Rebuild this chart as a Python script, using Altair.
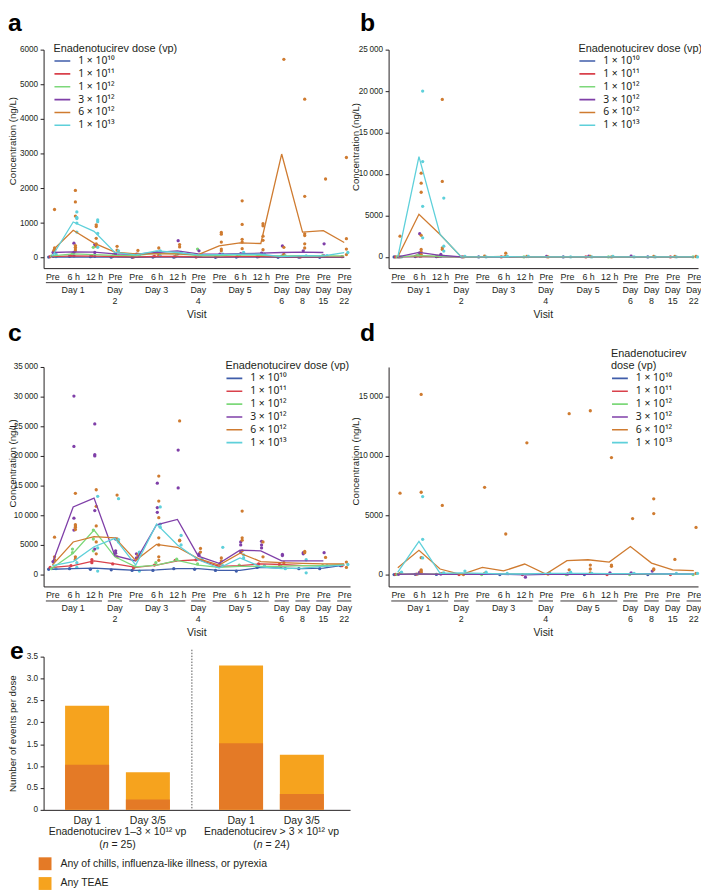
import altair as alt
import pandas as pd

FONT = "Liberation Sans"
INK = "#231F20"

# ---------------- shared categories ----------------
VISITS = list(range(15))
VISIT_LABELS = ["Pre", "6 h", "12 h", "Pre", "Pre", "6 h", "12 h", "Pre",
                "Pre", "6 h", "12 h", "Pre", "Pre", "Pre", "Pre"]
GROUP_START = [0, 3, 4, 7, 8, 11, 12, 13, 14]
GROUP_END = [2, 3, 6, 7, 10, 11, 12, 13, 14]
GROUP_LINE1 = ["Day 1", "Day", "Day 3", "Day", "Day 5", "Day", "Day", "Day", "Day"]
GROUP_LINE2 = ["", "2", "", "4", "", "6", "8", "15", "22"]

DOSES = ["1 × 10¹⁰", "1 × 10¹¹", "1 × 10¹²", "3 × 10¹²", "6 × 10¹²", "1 × 10¹³"]
DOSE_COLORS = ["#3F5DAA", "#D9414B", "#7DD87A", "#7F3FA8", "#CF7B30", "#5ED0DA"]

# ---------------- panel a ----------------
A_MEAN_1E10 = [15, 25, 20, 15, 10, 15, 15, 10, 10, 15, 15, 10, 10, 10, 10]
A_MEAN_1E11 = [30, 50, 45, 35, 25, 35, 35, 25, 25, 30, 30, 25, 25, 25, 25]
A_MEAN_1E12 = [50, 110, 90, 70, 60, 130, 110, 60, 60, 80, 70, 50, 60, 50, 50]
A_MEAN_3E12 = [150, 170, 160, 110, 100, 150, 200, 110, 100, 120, 130, 150, 160, 150, None]
A_MEAN_6E12 = [200, 790, 420, 160, 110, 110, 110, 90, 340, 430, 410, 2990, 740, 780, 440]
A_MEAN_1E13 = [50, 1030, 760, 150, 80, 200, 150, 80, 90, 100, 100, 30, 60, 50, 150]

A_PTS_1E10 = [(0, 20), (1, 40), (2, 30), (3, 15), (4, 10), (5, 20), (6, 15), (8, 10),
              (9, 20), (10, 25), (11, 10), (12, 15), (13, 10)]
A_PTS_1E11 = [(0, 30), (1, 60), (2, 50), (3, 40), (4, 20), (5, 40), (6, 30), (7, 20),
              (8, 30), (9, 40), (10, 30), (12, 20), (14, 30)]
A_PTS_1E12 = [(0, 50), (1, 120), (2, 300), (3, 100), (4, 60), (5, 150), (6, 100), (7, 250),
              (8, 60), (9, 80), (10, 60), (11, 40), (13, 60)]
A_PTS_3E12 = [(0, 150), (0, 40), (1, 420), (1, 150), (1, 50), (2, 380), (2, 150), (2, 40),
              (3, 110), (4, 100), (5, 150), (6, 490), (6, 120), (7, 200), (7, 50), (8, 100),
              (9, 120), (10, 130), (11, 340), (11, 50), (12, 200), (13, 400), (13, 50)]
A_PTS_6E12 = [(0, 1390), (0, 280), (0, 230), (0, 180), (1, 1940), (1, 1610), (1, 1200),
              (1, 350), (1, 300), (1, 250), (1, 200), (2, 950), (2, 900), (2, 560), (2, 400),
              (2, 330), (3, 330), (3, 220), (4, 210), (4, 100), (5, 280), (5, 120), (5, 60),
              (6, 380), (6, 310), (7, 60), (8, 730), (8, 680), (8, 450), (8, 250), (8, 200),
              (9, 1640), (9, 960), (9, 530), (9, 450), (9, 260), (10, 980), (10, 920),
              (10, 620), (10, 500), (10, 230), (11, 5720), (11, 300), (11, 100), (12, 4570),
              (12, 1770), (12, 690), (12, 640), (12, 400), (12, 280), (13, 2270), (14, 2890),
              (14, 550), (14, 250), (14, 90)]
A_PTS_1E13 = [(0, 100), (0, 30), (1, 1320), (1, 1160), (1, 1130), (1, 1000), (1, 740),
              (2, 1090), (2, 1040), (2, 700), (2, 300), (3, 200), (3, 50), (4, 80), (5, 200),
              (5, 60), (6, 150), (7, 80), (8, 100), (9, 150), (10, 100), (11, 50), (12, 50),
              (13, 60), (14, 150)]

# ---------------- panel b ----------------
B_MEAN_1E10 = [0, 30, 20, 0, 0, 0, 0, 0, 0, 0, 0, 0, 0, 0, 0]
B_MEAN_1E11 = [0, 80, 40, 0, 0, 0, 0, 0, 0, 0, 0, 0, 0, 0, 0]
B_MEAN_1E12 = [0, 150, 80, 0, 0, 0, 0, 0, 0, 0, 0, 0, 0, 0, 0]
B_MEAN_3E12 = [0, 550, 200, 0, 0, 20, 0, 0, 0, 20, 0, 20, 0, 0, 0]
B_MEAN_6E12 = [0, 5150, 2700, 0, 0, 60, 0, 0, 0, 0, 0, 0, 0, 0, 0]
B_MEAN_1E13 = [0, 12100, 2700, 0, 0, 30, 0, 0, 0, 0, 0, 0, 0, 0, 0]

B_PTS_1E10 = [(0, 0), (1, 50), (2, 30), (4, 0), (8, 0), (12, 0)]
B_PTS_1E11 = [(0, 0), (1, 120), (2, 60), (5, 0), (9, 0), (13, 0)]
B_PTS_1E12 = [(0, 0), (1, 250), (2, 100), (6, 0), (10, 0), (14, 0)]
B_PTS_3E12 = [(0, 0), (1, 2800), (1, 500), (1, 100), (2, 300), (2, 100), (3, 0), (7, 50),
              (9, 100), (11, 80)]
B_PTS_6E12 = [(0, 2500), (0, 0), (1, 10100), (1, 8900), (1, 7800), (1, 2600), (1, 900),
              (1, 600), (1, 300), (1, 100), (2, 19000), (2, 9100), (2, 1100), (2, 900),
              (3, 0), (4, 80), (5, 450), (5, 100), (6, 50), (7, 0), (9, 50), (10, 0),
              (12, 50), (13, 50), (14, 50)]
B_PTS_1E13 = [(0, 0), (1, 20000), (1, 11500), (1, 6100), (1, 2300), (2, 7100), (2, 1300),
              (2, 700), (3, 50), (4, 0), (5, 100), (6, 50), (8, 0), (9, 0), (10, 50), (11, 0),
              (12, 0), (13, 0), (14, 0)]

# ---------------- panel c ----------------
C_MEAN_1E10 = [900, 1000, 1100, 900, 700, 800, 1000, 1000, 700, 700, 1200, 1100, 1000, 1100, 1600]
C_MEAN_1E11 = [1200, 1500, 2300, 1800, 1200, 1600, 2300, 2500, 1400, 1500, 1800, 1700, 1500, 1500, 1600]
C_MEAN_1E12 = [1100, 3600, 7500, 3000, 1300, 1600, 2400, 1600, 1200, 1400, 1400, 1400, 1500, 1500, 1700]
C_MEAN_3E12 = [1900, 11400, 12900, 3200, 2300, 8400, 9300, 3100, 1900, 4100, 4000, 2300, 2300, 2300, None]
C_MEAN_6E12 = [1600, 5500, 6400, 6200, 2400, 5100, 4600, 2700, 1600, 3600, 2200, 2000, 1900, 1800, 1800]
C_MEAN_1E13 = [1500, 2200, 4700, 6100, 1600, 8500, 5000, 2500, 1100, 2800, 1300, 1000, 1100, 1400, 1600]

C_PTS_1E10 = [(0, 900), (1, 1000), (2, 900), (3, 800), (4, 700), (5, 700), (6, 1000),
              (7, 900), (8, 700), (9, 600), (10, 1200), (12, 1000), (13, 1000), (14, 1500)]
C_PTS_1E11 = [(0, 1200), (1, 1500), (2, 2500), (2, 2000), (3, 1800), (4, 1100), (5, 1600),
              (6, 2400), (7, 2500), (8, 1400), (10, 1800), (11, 1700), (14, 1500)]
C_PTS_1E12 = [(0, 1000), (1, 4300), (1, 3700), (2, 7500), (2, 6000), (2, 4000), (3, 3500),
              (4, 1300), (5, 2000), (6, 2600), (7, 1800), (9, 1600), (11, 1400), (13, 1500)]
C_PTS_3E12 = [(0, 2200), (1, 30100), (1, 21600), (1, 9500), (1, 7500), (2, 25400),
              (2, 20200), (2, 20000), (2, 10800), (2, 4300), (3, 6000), (3, 4000), (3, 3600),
              (4, 3500), (4, 2800), (5, 15400), (5, 11300), (5, 10500), (6, 21000),
              (6, 14600), (7, 3500), (7, 3200), (8, 1800), (9, 5500), (9, 5000), (9, 3800),
              (10, 5600), (10, 5000), (10, 4500), (11, 3400), (11, 3200), (12, 3700),
              (12, 3500), (13, 3700)]
C_PTS_6E12 = [(0, 6300), (0, 3000), (0, 2500), (1, 13700), (1, 8400), (1, 8200), (1, 8000),
              (1, 7600), (1, 3000), (1, 2600), (2, 14300), (2, 11500), (2, 8200), (2, 5500),
              (2, 3500), (3, 13400), (3, 6000), (3, 3000), (4, 3300), (4, 2800), (5, 16600),
              (5, 12400), (5, 9600), (5, 6200), (5, 5000), (5, 3000), (5, 2400), (6, 25900),
              (6, 5800), (6, 5700), (7, 4400), (7, 3800), (8, 2800), (8, 2300), (9, 10700),
              (9, 6200), (9, 5800), (9, 4000), (10, 5500), (10, 3000), (11, 2000), (12, 3900),
              (12, 3700), (13, 2900), (14, 2100), (14, 1200)]
C_PTS_1E13 = [(0, 1000), (1, 2000), (1, 1200), (2, 13200), (2, 4500), (2, 600), (3, 12800),
              (3, 5900), (3, 5500), (4, 3800), (4, 3500), (4, 600), (5, 11400), (5, 8500),
              (5, 8000), (6, 6600), (6, 5000), (7, 2600), (8, 4600), (8, 1500), (9, 3300),
              (9, 2800), (10, 1500), (11, 1000), (12, 2500), (12, 300), (13, 1500), (14, 1700)]

# ---------------- panel d ----------------
D_MEAN_1E10 = [10, 10, 10, 10, 10, 10, 10, 10, 10, 10, 10, 10, 10, 10, 10]
D_MEAN_1E11 = [20, 20, 20, 20, 20, 20, 20, 20, 20, 20, 20, 20, 20, 20, 20]
D_MEAN_1E12 = [30, 40, 30, 30, 30, 30, 30, 30, 30, 30, 30, 30, 30, 30, 30]
D_MEAN_3E12 = [20, 60, 20, 20, 20, 20, -20, 20, 20, 20, 40, 50, 80, 50, 30]
D_MEAN_6E12 = [580, 2050, 470, 0, 610, 305, 890, 50, 1170, 1250, 1055, 2360, 970, 390, 330]
D_MEAN_1E13 = [200, 2800, 100, 150, 100, 50, 50, 100, 100, 100, 80, 80, 60, 50, 50]

D_PTS_1E10 = [(0, 0), (1, 20), (2, 10), (5, 0), (9, 0), (12, 0)]
D_PTS_1E11 = [(0, 10), (1, 30), (3, 0), (6, 0), (10, 0), (13, 0)]
D_PTS_1E12 = [(0, 20), (1, 60), (4, 0), (8, 0), (11, 0), (14, 0)]
D_PTS_3E12 = [(0, 20), (1, 200), (2, 50), (6, -220), (8, 50), (10, 150), (11, 150), (12, 300)]
D_PTS_6E12 = [(0, 6860), (0, 100), (1, 15190), (1, 6940), (1, 1420), (1, 400), (1, 300),
              (1, 200), (2, 5830), (2, 100), (3, 0), (4, 7360), (4, 100), (5, 3420),
              (6, 11110), (7, 50), (8, 13560), (8, 400), (9, 13810), (9, 800), (9, 470),
              (9, 150), (10, 9860), (10, 800), (10, 700), (11, 4720), (12, 6390), (12, 5140),
              (12, 470), (12, 400), (13, 1280), (14, 3970), (14, 100)]
D_PTS_1E13 = [(0, 200), (1, 6580), (1, 2970), (1, 1400), (2, 150), (3, 300), (4, 200),
              (5, 100), (7, 150), (8, 200), (9, 100), (11, 100), (13, 100), (14, 100)]

# ---------------- panel e ----------------
E_GROUPS = ["Enadenotucirev 1–3 × 10¹² vp", "Enadenotucirev > 3 × 10¹² vp"]
E_N = [25, 24]
E_DAYS = ["Day 1", "Day 3/5"]
E_KINDS = ["Any of chills, influenza-like illness, or pyrexia", "Any TEAE"]
E_COLORS = ["#E47A26", "#F6A31E"]
E_TEAE = [2.38, 0.86, 3.30, 1.26]        # group1-day1, group1-day3/5, group2-day1, group2-day3/5
E_CHILLS = [1.03, 0.235, 1.52, 0.36]

Y_EXPR = ("datum.value >= 10000 ? replace(format(datum.value, ','), ',', '\u2009')"
          " : format(datum.value, 'd')")
X_EXPR = "[" + ",".join("'%s'" % s for s in VISIT_LABELS) + "][datum.value]"


def frames(means, points):
    rows = []
    for dose, arr in zip(DOSES, means):
        for v, val in zip(VISITS, arr):
            if val is not None:
                rows.append({"visit": v, "value": val, "dose": dose})
    prow = []
    for k, (dose, pts) in enumerate(zip(DOSES, points)):
        for v, val in pts:
            prow.append({"visit": v, "value": val, "dose": dose, "k": k})
    return pd.DataFrame(rows), pd.DataFrame(prow)


groups_df = pd.DataFrame({"start": GROUP_START, "end": GROUP_END,
                          "l1": GROUP_LINE1, "l2": GROUP_LINE2})


def conc_panel(means, points, letter, letter_x, letter_y, ydom, yticks, width, vis_h,
               tot_h, xdom, lx, ly, ltitle, title_x, title_y):
    lines_df, pts_df = frames(means, points)
    xscale = alt.Scale(domain=xdom, nice=False, zero=False)
    ykw = dict(domain=ydom, nice=False, zero=False)
    if tot_h != vis_h:
        ykw["range"] = [vis_h, 0]
    yscale = alt.Scale(**ykw)
    xaxis = alt.Axis(values=VISITS, labelExpr=X_EXPR, ticks=False, tickSize=0,
                     labelPadding=4.5, labelFontSize=9, labelColor=INK, domainColor=INK,
                     domainWidth=1, title=None, grid=False, labelOverlap=False,
                     labelFlush=False, offset=vis_h - tot_h)
    yaxis = alt.Axis(values=yticks, labelExpr=Y_EXPR, tickSize=3.5, tickColor=INK,
                     tickWidth=1, domainColor=INK, domainWidth=1, labelFontSize=8.3,
                     labelPadding=2.5, labelColor=INK, title="Concentration (ng/L)",
                     titleFontSize=9.8, titleFontWeight="normal", titleColor=INK,
                     titleX=title_x, titleY=title_y, titleBaseline="top", titleAngle=270,
                     titleAlign="center", grid=False)
    legend = alt.Legend(orient="none", legendX=lx, legendY=ly, title=ltitle,
                        titleFontSize=11, titleFontWeight="normal", titleColor=INK,
                        titlePadding=1, titleLineHeight=12.5, labelFontSize=10.5,
                        labelFont="Noto Sans",
                        labelColor=INK, symbolType="stroke", symbolSize=256,
                        symbolStrokeWidth=1.6, clipHeight=12.1, labelOffset=7,
                        rowPadding=0, padding=0)
    cscale = alt.Scale(domain=DOSES, range=DOSE_COLORS)
    color = alt.Color("dose:N", scale=cscale, legend=legend)

    pts = alt.Chart(pts_df).transform_calculate(
        xj="datum.visit + (datum.k - 2.5) * 0.07"
    ).mark_circle(size=11, opacity=1).encode(
        x=alt.X("xj:Q", scale=xscale, axis=xaxis),
        y=alt.Y("value:Q", scale=yscale, axis=yaxis),
        color=color,
    )
    lines = alt.Chart(lines_df).mark_line(strokeWidth=1.3).encode(
        x=alt.X("visit:Q", scale=xscale, axis=xaxis),
        y=alt.Y("value:Q", scale=yscale, axis=yaxis),
        color=color,
    )
    under = alt.Chart(groups_df).transform_calculate(
        x0="datum.start - (datum.start == datum.end ? 0.34 : 0.31)",
        x1="datum.end + (datum.start == datum.end ? 0.34 : 0.38)",
    ).mark_rule(color=INK, strokeWidth=0.9).encode(
        x=alt.X("x0:Q", scale=xscale, axis=xaxis), x2="x1:Q",
        y=alt.value(vis_h + 14.7),
    )
    base_txt = alt.Chart(groups_df).transform_calculate(gc="(datum.start + datum.end) / 2")
    t1 = base_txt.mark_text(fontSize=9, baseline="middle", color=INK).encode(
        x=alt.X("gc:Q", scale=xscale, axis=xaxis), y=alt.value(vis_h + 22.3), text="l1:N")
    t2 = base_txt.mark_text(fontSize=9, baseline="middle", color=INK).encode(
        x=alt.X("gc:Q", scale=xscale, axis=xaxis), y=alt.value(vis_h + 33.3), text="l2:N")
    visit = alt.Chart(pd.DataFrame({"t": ["Visit"]})).mark_text(
        fontSize=10.5, baseline="middle", color=INK).encode(
        x=alt.value(width / 2), y=alt.value(vis_h + 47.3), text="t:N")
    let = alt.Chart(pd.DataFrame({"t": [letter]})).mark_text(
        fontSize=25, fontWeight="bold", align="left", baseline="alphabetic",
        color="#000000").encode(x=alt.value(letter_x), y=alt.value(letter_y), text="t:N")
    return alt.layer(pts, lines, under, t1, t2, visit, let).properties(
        width=width, height=tot_h)


LEFT_W = 310
RIGHT_W = 313
XDOM_L = [-0.42, 14.28]
XDOM_R = [-0.435, 14.2]

A = conc_panel([A_MEAN_1E10, A_MEAN_1E11, A_MEAN_1E12, A_MEAN_3E12, A_MEAN_6E12, A_MEAN_1E13],
               [A_PTS_1E10, A_PTS_1E11, A_PTS_1E12, A_PTS_3E12, A_PTS_6E12, A_PTS_1E13],
               "a", -36, -19, [-300, 6000], [0, 1000, 2000, 3000, 4000, 5000, 6000],
               LEFT_W, 221, 221, XDOM_L, 10, -6.5, "Enadenotucirev dose (vp)", -36, 92)
B = conc_panel([B_MEAN_1E10, B_MEAN_1E11, B_MEAN_1E12, B_MEAN_3E12, B_MEAN_6E12, B_MEAN_1E13],
               [B_PTS_1E10, B_PTS_1E11, B_PTS_1E12, B_PTS_3E12, B_PTS_6E12, B_PTS_1E13],
               "b", -29, -19, [-1350, 25000], [0, 5000, 10000, 15000, 20000, 25000],
               RIGHT_W, 221, 250, XDOM_R, 192, -6.5, "Enadenotucirev dose (vp)", -38, 98)
C = conc_panel([C_MEAN_1E10, C_MEAN_1E11, C_MEAN_1E12, C_MEAN_3E12, C_MEAN_6E12, C_MEAN_1E13],
               [C_PTS_1E10, C_PTS_1E11, C_PTS_1E12, C_PTS_3E12, C_PTS_6E12, C_PTS_1E13],
               "c", -36, -26, [-2000, 35000],
               [0, 5000, 10000, 15000, 20000, 25000, 30000, 35000],
               LEFT_W, 222, 222, XDOM_L, 184, -6.5, "Enadenotucirev dose (vp)", -36, 97)
D = conc_panel([D_MEAN_1E10, D_MEAN_1E11, D_MEAN_1E12, D_MEAN_3E12, D_MEAN_6E12, D_MEAN_1E13],
               [D_PTS_1E10, D_PTS_1E11, D_PTS_1E12, D_PTS_3E12, D_PTS_6E12, D_PTS_1E13],
               "d", -29, -26, [-1000, 17500], [0, 5000, 10000, 15000],
               RIGHT_W, 222, 222, XDOM_R, 225, -19, ["Enadenotucirev", "dose (vp)"], -38, 95)

# ---------------- panel e build ----------------
E_H = 155
bar_rows = []
i = 0
for g in E_GROUPS:
    for d in E_DAYS:
        bar_rows.append({"group": g, "day": d, "kind": E_KINDS[1], "value": E_TEAE[i]})
        i += 1
i = 0
for g in E_GROUPS:
    for d in E_DAYS:
        bar_rows.append({"group": g, "day": d, "kind": E_KINDS[0], "value": E_CHILLS[i]})
        i += 1
bars_df = pd.DataFrame(bar_rows)
lab_df = pd.DataFrame([{"group": g, "day": d} for g in E_GROUPS for d in E_DAYS])
grp_df = pd.DataFrame({"group": E_GROUPS, "n": E_N})

gscale = alt.Scale(domain=E_GROUPS, paddingInner=0.3194, paddingOuter=0.1549, align=0.4508)
dscale = alt.Scale(domain=E_DAYS, paddingInner=0.2764, paddingOuter=0)
exaxis = alt.Axis(labels=False, ticks=False, title=None, domainColor=INK, grid=False)
eyaxis = alt.Axis(values=[0, 0.5, 1, 1.5, 2, 2.5, 3, 3.5],
                  labelExpr="datum.value == 0 ? '0' : format(datum.value, '.1f')",
                  tickSize=3.5, tickColor=INK, domainColor=INK, labelFontSize=8.3,
                  labelPadding=2.5, labelColor=INK, title="Number of events per dose",
                  titleFontSize=9.8, titleFontWeight="normal", titleColor=INK,
                  titleX=-36, titleBaseline="top", titleAngle=270, grid=False)
elegend = alt.Legend(orient="none", legendX=-5, legendY=203, title=None, symbolType="square",
                     symbolSize=169, symbolStrokeWidth=0, labelFontSize=10.6, labelColor=INK,
                     labelOffset=9, rowPadding=7, padding=0, labelLimit=400)

ebars = alt.Chart(bars_df).mark_bar().encode(
    x=alt.X("group:N", scale=gscale, axis=exaxis, sort=E_GROUPS),
    xOffset=alt.XOffset("day:N", scale=dscale, sort=E_DAYS),
    y=alt.Y("value:Q", scale=alt.Scale(domain=[0, 3.5], nice=False), axis=eyaxis, stack=None),
    color=alt.Color("kind:N", scale=alt.Scale(domain=E_KINDS, range=E_COLORS), legend=elegend),
)
edays = alt.Chart(lab_df).mark_text(fontSize=10.6, baseline="middle", color=INK).encode(
    x=alt.X("group:N", scale=gscale, axis=exaxis, sort=E_GROUPS),
    xOffset=alt.XOffset("day:N", scale=dscale, sort=E_DAYS),
    y=alt.value(166.7), text="day:N")
egrp = alt.Chart(grp_df).mark_text(fontSize=10.6, baseline="middle", color=INK).encode(
    x=alt.X("group:N", scale=gscale, axis=exaxis, sort=E_GROUPS),
    y=alt.value(177.7), text="group:N")
n_base = alt.Chart(grp_df).transform_calculate(p="'('", nn="'n'", rest="'= ' + datum.n + ')'")
en1 = n_base.mark_text(fontSize=10.6, baseline="middle", align="left", dx=-18.4, color=INK).encode(
    x=alt.X("group:N", scale=gscale, axis=exaxis, sort=E_GROUPS), y=alt.value(190.3), text="p:N")
en2 = n_base.mark_text(fontSize=10.6, baseline="middle", align="left", dx=-14.8,
                       fontStyle="italic", color=INK).encode(
    x=alt.X("group:N", scale=gscale, axis=exaxis, sort=E_GROUPS), y=alt.value(190.3), text="nn:N")
en3 = n_base.mark_text(fontSize=10.6, baseline="middle", align="left", dx=-6.0, color=INK).encode(
    x=alt.X("group:N", scale=gscale, axis=exaxis, sort=E_GROUPS), y=alt.value(190.3), text="rest:N")
esep = alt.Chart(pd.DataFrame({"a": [0]})).mark_rule(
    strokeDash=[1.5, 1.5], color="#444444", strokeWidth=0.9).encode(
    x=alt.value(150), y=alt.value(-7), y2=alt.value(E_H))
elet = alt.Chart(pd.DataFrame({"t": ["e"]})).mark_text(
    fontSize=25, fontWeight="bold", align="left", baseline="alphabetic",
    color="#000000").encode(x=alt.value(-34), y=alt.value(2), text="t:N")

E = alt.layer(ebars, edays, egrp, en1, en2, en3, esep, elet).properties(
    width=LEFT_W, height=E_H)

chart = alt.concat(
    A, B, C, D, E, columns=2, spacing={"row": 71, "column": 39}, bounds="flush", align="each"
).resolve_scale(color="independent").resolve_legend(color="independent").properties(
    autosize=alt.AutoSizeParams(type="none"),
    padding={"left": 36, "top": 37, "right": 665, "bottom": 850},
).configure(font=FONT).configure_view(stroke=None)

chart.save("out.html", embed_options={"renderer": "svg", "actions": False})
